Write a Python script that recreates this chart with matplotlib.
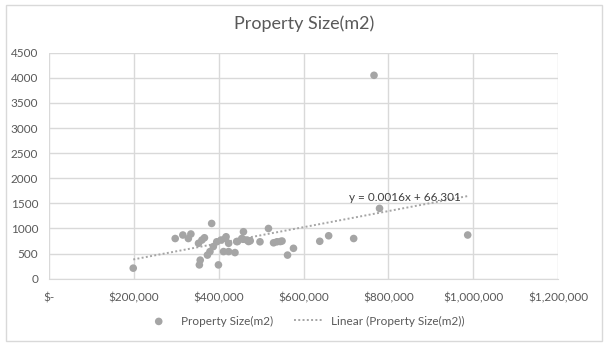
import matplotlib
matplotlib.use("Agg")
import matplotlib.pyplot as plt
from matplotlib.patches import Rectangle
from matplotlib.ticker import FuncFormatter
import numpy as np

title = "Property Size(m2)"
series_name = "Property Size(m2)"
trend_name = "Linear (Property Size(m2))"
equation_text = "y = 0.0016x + 66.301"
slope = 0.0016
intercept = 66.301

price = [198000, 297000, 315000, 328000, 334000, 352000, 360000, 366000,
         356000, 354000, 383000, 373000, 379000, 387000, 395000, 399000,
         405000, 417000, 423000, 411000, 423000, 438000, 442000, 458000,
         454000, 466000, 474000, 497000, 517000, 529000, 537000, 549000,
         562000, 576000, 638000, 659000, 718000, 779000, 987000, 766000,
         415000, 444000, 457000, 470000, 545000]
size_m2 = [210, 800, 870, 800, 890, 705, 770, 815,
           370, 275, 1100, 470, 540, 640, 735, 275,
           770, 835, 705, 540, 540, 520, 740, 935,
           800, 770, 755, 735, 1000, 715, 735, 750,
           470, 605, 745, 855, 800, 1400, 870, 4050,
           800, 740, 785, 740, 740]

x_ticks = [0, 200000, 400000, 600000, 800000, 1000000, 1200000]
y_ticks = [0, 500, 1000, 1500, 2000, 2500, 3000, 3500, 4000, 4500]

FONT = ["Lato", "DejaVu Sans"]
TXT = "#595959"
GRID = "#d9d9d9"
MARK = "#a5a5a5"

plt.rcParams["font.family"] = FONT

fig = plt.figure(figsize=(6.08, 3.52), dpi=100)
fig.patches.append(Rectangle((5.5 / 608, 1 - 341.3 / 352), (601.7 - 5.5) / 608,
                             (341.3 - 4.5) / 352, transform=fig.transFigure,
                             fill=False, edgecolor=GRID, linewidth=1.0))

ax = fig.add_axes([49.3 / 608, 1 - 278.7 / 352, (558 - 49.3) / 608, (278.7 - 52.7) / 352])
ax.set_xlim(0, 1200000)
ax.set_ylim(0, 4500)
ax.set_xticks(x_ticks)
ax.set_yticks(y_ticks)

def money(v, pos):
    if v == 0:
        return "$-"
    return "${:,.0f}".format(v)

ax.xaxis.set_major_formatter(FuncFormatter(money))
ax.grid(True, color=GRID, linewidth=1.0)
ax.set_axisbelow(True)
for s in ax.spines.values():
    s.set_visible(False)
ax.spines["bottom"].set_visible(True)
ax.spines["bottom"].set_color(GRID)
ax.tick_params(axis="both", length=0, colors=TXT, labelsize=8.5)
ax.tick_params(axis="x", pad=10)
ax.tick_params(axis="y", pad=8)

sc = ax.scatter(price, size_m2, s=30, color=MARK, edgecolors="none", zorder=3,
                label=series_name)
xs = np.array([min(price), max(price)])
ln, = ax.plot(xs, slope * xs + intercept, linestyle=(0, (1, 1.2)), color=MARK,
              linewidth=1.4, zorder=2, label=trend_name)
ax.text(840000, 1607, equation_text, ha="center", va="center", color="#404040",
        fontsize=8.5)

fig.text(0.5, 1 - 24 / 352, title, ha="center", va="center", color=TXT, fontsize=13)

fig.legend(handles=[sc, ln], loc="center", bbox_to_anchor=(0.5, 1 - 321 / 352),
           ncol=2, frameon=False, fontsize=8.5, labelcolor=TXT,
           handlelength=2.5, columnspacing=1.8, handletextpad=0.6)

fig.savefig("out.png", dpi=100)
